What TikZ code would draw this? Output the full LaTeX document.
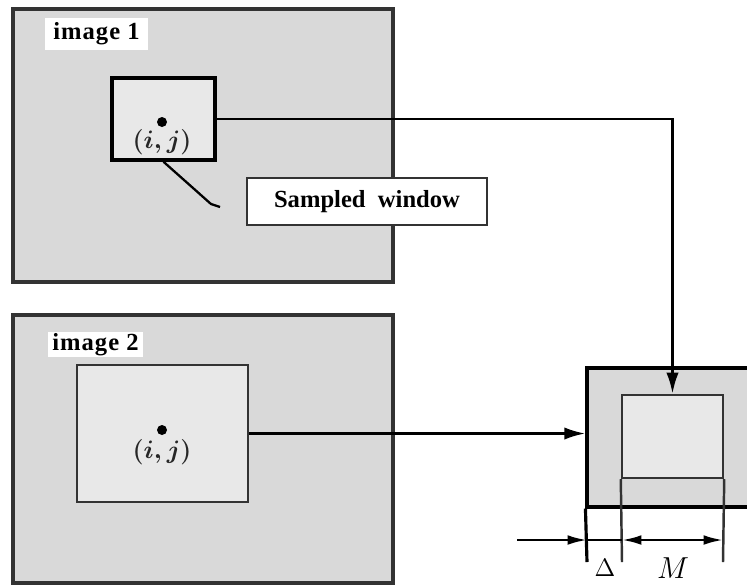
\documentclass[tikz,border=0pt]{standalone}
\usepackage{fontspec}
\setmainfont{Liberation Serif}
\newfontfamily\tagfont[LetterSpace=4]{Liberation Serif}
\usetikzlibrary{arrows.meta}

\tikzset{
  imgbox/.style={draw=black!80, line width=1.9pt, fill=black!15, inner sep=0pt, minimum width=7.6cm},
  tagbox/.style={fill=white, inner sep=0pt, font=\tagfont\fontsize{14}{16}\selectfont\bfseries},
  winbox/.style={draw, line width=2pt, fill=black!9, inner sep=0pt},
  pixdot/.style={circle, fill, inner sep=0pt, minimum size=0.2cm},
  pixlabel/.style={text=black!85, font=\fontsize{14.5}{17}\selectfont\boldmath},
  feed/.style={line width=1.5pt, -{Latex[length=12pt,width=7pt]}},
  dimline/.style={line width=1.4pt},
  dimtip/.tip={Latex[length=11pt,width=5.5pt]},
}

\begin{document}
\begin{tikzpicture}[x=0.02cm, y=-0.02cm]
	\clip (0, 0) rectangle (747, 586);
	\fill[white] (0, 0) rectangle (747, 586);

	\begin{scope}
		\node[imgbox, minimum height=5.46cm] (img1) at (203, 145.5) {};
		\node[tagbox, minimum width=2.06cm, minimum height=0.64cm] (tag1) at (96.5, 34) {image 1};
		\node[winbox, minimum width=2.06cm, minimum height=1.64cm] (win1) at (163.5, 119) {};
		\node[pixdot] (dot1) at (162, 122) {};
		\node[pixlabel] (ij1) at (162, 142) {$(i,j)$};

		% leader from the window to its caption
		\coordinate (bend) at (211, 204);
		\coordinate (tail) at (220, 207);
		\draw[line width=1.3pt] (win1.south) -- (bend) -- (tail);
		\node[draw=black!80, line width=1.2pt, fill=white, minimum width=4.8cm, minimum height=0.94cm,
			font=\fontsize{14}{16}\selectfont\bfseries] (cap) at (367, 201.5) {Sampled\ \ window};
	\end{scope}

	\begin{scope}
		\node[imgbox, minimum height=5.36cm] (img2) at (203, 449) {};
		\node[tagbox, minimum width=1.9cm, minimum height=0.5cm] (tag2) at (95.5, 344.5) {image 2};
		\node[winbox, draw=black!80, line width=1.6pt, minimum width=3.42cm, minimum height=2.74cm] (win2) at (162.5, 433.5) {};
		\node[pixdot] (dot2) at (162, 430) {};
		\node[pixlabel] (ij2) at (162, 452) {$(i,j)$};
	\end{scope}

	\begin{scope}
		\node[draw, line width=1.8pt, fill=black!15, inner sep=0pt, minimum width=4.26cm, minimum height=2.78cm] (res) at (693.5, 437.5) {};
		\node[draw=black!80, line width=1.4pt, fill=black!9, inner sep=0pt, minimum width=2.02cm, minimum height=1.66cm] (sub) at (672.5, 436.5) {};

		% extension lines
		\coordinate (e0) at (587, 562);
		\coordinate (e1) at (622, 562);
		\coordinate (e2) at (723, 562);
		\coordinate (d0) at (517, 540);
		\draw[line width=1.8pt] (res.south west) -- (e0);
		\draw[line width=1.4pt, black!80] (sub.south west) -- (e1);
		\draw[line width=1.4pt, black!80] (sub.south east) -- (e2);

		% dimension lines
		\draw[dimline, -dimtip] (d0) -- (d0 -| e0);
		\draw[dimline] (d0 -| e0) -- (d0 -| e1);
		\draw[dimline, dimtip-dimtip] (d0 -| e1) -- (d0 -| e2);
		\node[font=\fontsize{15}{17}\selectfont] (delta) at (605, 568) {$\Delta$};
		\node[font=\fontsize{16}{18}\selectfont] (m) at (673, 568) {$M$};
	\end{scope}

	% Draw the feeds into the result window
	\draw[feed] (win1.east) -| (sub.north);
	\draw[feed] (win2.east) -- (win2.east -| res.west);
\end{tikzpicture}
\end{document}
